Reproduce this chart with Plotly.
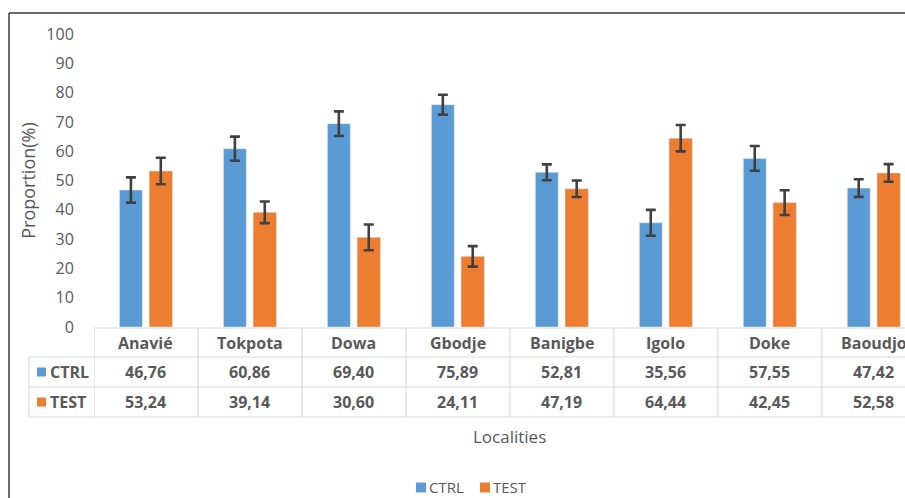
import plotly.graph_objects as go

# Proportion (%) of CTRL and TEST per locality, with error margins
localities = ["Anavié", "Tokpota", "Dowa", "Gbodje", "Banigbe", "Igolo", "Doke", "Baoudjo"]
ctrl = [46.76, 60.86, 69.40, 75.89, 52.81, 35.56, 57.55, 47.42]
test = [53.24, 39.14, 30.60, 24.11, 47.19, 64.44, 42.45, 52.58]
ctrl_err = [4.3, 4.1, 4.2, 3.4, 2.7, 4.4, 4.2, 3.0]
test_err = [4.5, 3.7, 4.4, 3.5, 2.8, 4.5, 4.2, 3.0]
series_names = ["CTRL", "TEST"]
y_ticks = list(range(0, 101, 10))

BLUE = "#5b9bd5"
ORANGE = "#ed7d31"
TEXT = "#595959"
GRID = "#d9d9d9"
FONT = "Open Sans"

W, H = 905, 498
PLOT_L, PLOT_R, PLOT_T, PLOT_B = 94, 905, 34, 327


def py(p):
    """pixel row -> paper y"""
    return (PLOT_B - p) / (PLOT_B - PLOT_T)


def px(p):
    """pixel column -> paper x"""
    return (p - PLOT_L) / (PLOT_R - PLOT_L)


xs = list(range(len(localities)))

fig = go.Figure()
err_style = dict(type="data", thickness=2.6, width=5, color="#404040")
fig.add_trace(go.Bar(
    x=xs, y=ctrl, name=series_names[0], marker_color=BLUE,
    offset=-0.255, width=0.22,
    error_y=dict(array=ctrl_err, **err_style),
))
fig.add_trace(go.Bar(
    x=xs, y=test, name=series_names[1], marker_color=ORANGE,
    offset=0.03, width=0.225,
    error_y=dict(array=test_err, **err_style),
))

shapes = []
ann = []

# data table under the axis
row_lines = [py(357), py(387), py(417)]
for yl in row_lines:
    shapes.append(dict(type="line", xref="paper", yref="paper",
                       x0=px(29), x1=1.02, y0=yl, y1=yl,
                       line=dict(color=GRID, width=1.2)))
shapes.append(dict(type="line", xref="paper", yref="paper",
                   x0=0, x1=1.02, y0=py(328), y1=py(328),
                   line=dict(color=GRID, width=1.2)))
shapes.append(dict(type="line", xref="paper", yref="paper",
                   x0=px(29), x1=px(29), y0=py(357), y1=py(417),
                   line=dict(color=GRID, width=1.2)))
for k in range(len(localities)):
    xb = k - 0.5
    shapes.append(dict(type="line", xref="x", yref="paper",
                       x0=xb, x1=xb, y0=py(328), y1=py(417),
                       line=dict(color=GRID, width=1.2)))

cell_font = dict(family=FONT, size=16, color=TEXT)
for i, name in enumerate(localities):
    ann.append(dict(x=i, y=py(342.5), xref="x", yref="paper", text=f"<b>{name}</b>",
                    showarrow=False, font=cell_font, xanchor="center", yanchor="middle"))
    ann.append(dict(x=i, y=py(372), xref="x", yref="paper",
                    text=f"<b>{ctrl[i]:.2f}</b>".replace(".", ","),
                    showarrow=False, font=cell_font, xanchor="center", yanchor="middle"))
    ann.append(dict(x=i, y=py(402), xref="x", yref="paper",
                    text=f"<b>{test[i]:.2f}</b>".replace(".", ","),
                    showarrow=False, font=cell_font, xanchor="center", yanchor="middle"))

# row keys in the table's first column
for name, color, yc in [(series_names[0], BLUE, 372), (series_names[1], ORANGE, 402)]:
    shapes.append(dict(type="rect", xref="paper", yref="paper",
                       x0=px(37), x1=px(46), y0=py(yc - 4.5), y1=py(yc + 4.5),
                       fillcolor=color, line=dict(width=0)))
    ann.append(dict(x=px(48), y=py(yc), xref="paper", yref="paper", text=f"<b>{name}</b>",
                    showarrow=False, font=cell_font, xanchor="left", yanchor="middle"))

# axis title under the table
ann.append(dict(x=px(509), y=py(436), xref="paper", yref="paper", text="Localities",
                showarrow=False, font=dict(family=FONT, size=17, color=TEXT),
                xanchor="center", yanchor="middle"))

# series key at the bottom
for name, color, x_sq in [(series_names[0], BLUE, 416), (series_names[1], ORANGE, 480)]:
    shapes.append(dict(type="rect", xref="paper", yref="paper",
                       x0=px(x_sq), x1=px(x_sq + 10), y0=py(482.5), y1=py(492.5),
                       fillcolor=color, line=dict(width=0)))
    ann.append(dict(x=px(x_sq + 12), y=py(487), xref="paper", yref="paper", text=name,
                    showarrow=False, font=dict(family=FONT, size=15, color=TEXT),
                    xanchor="left", yanchor="middle", borderpad=0))

# chart frame (top and left edges)
frame = dict(color="#3a3a3a", width=1.5)
shapes.append(dict(type="line", xref="paper", yref="paper",
                   x0=px(9), x1=1.05, y0=py(13), y1=py(13), line=frame))
shapes.append(dict(type="line", xref="paper", yref="paper",
                   x0=px(9), x1=px(9), y0=py(13), y1=py(530), line=frame))

fig.update_layout(
    width=W, height=H,
    margin=dict(l=PLOT_L, r=W - PLOT_R, t=PLOT_T, b=H - PLOT_B, pad=0),
    paper_bgcolor="white", plot_bgcolor="white",
    barmode="overlay",
    font=dict(family=FONT, color=TEXT),
    showlegend=False,
    xaxis=dict(range=[-0.5, 7.3], showticklabels=False, showgrid=False, zeroline=False,
               showline=False, ticks="", fixedrange=True),
    yaxis=dict(range=[0, 100], tickvals=y_ticks, showgrid=False, zeroline=False,
               showline=False, ticks="outside", ticklen=16, tickcolor="rgba(0,0,0,0)",
               tickfont=dict(family=FONT, size=16, color=TEXT),
               title=dict(text="Proportion(%)", standoff=6,
                          font=dict(family=FONT, size=18, color=TEXT))),
    shapes=shapes,
    annotations=ann,
)

fig.write_html("out.html")
